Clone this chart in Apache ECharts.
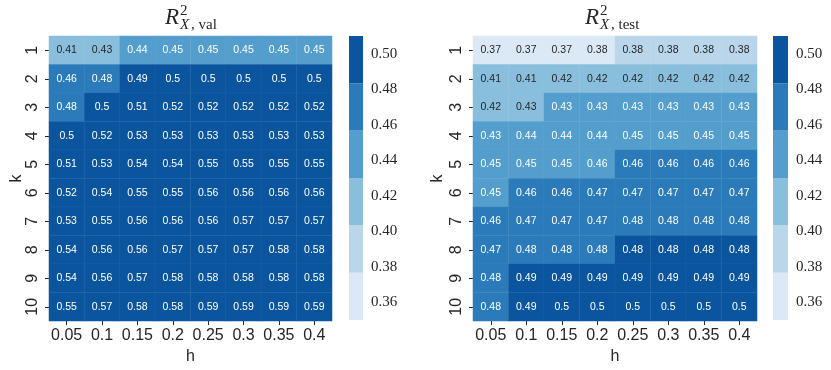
<!DOCTYPE html>
<html>
<head>
<meta charset="utf-8">
<script src="https://cdn.jsdelivr.net/npm/echarts@6/dist/echarts.min.js"></script>
<style>
  html, body { margin: 0; padding: 0; background: #fff; }
  #chart { width: 831px; height: 370px; }
</style>
</head>
<body>
<div id="chart"></div>
<script>
  var hVals = ['0.05', '0.1', '0.15', '0.2', '0.25', '0.3', '0.35', '0.4']
  var kVals = ['1', '2', '3', '4', '5', '6', '7', '8', '9', '10']

  // rows = k, cols = h
  var valScores = [
    [0.41, 0.429, 0.44, 0.45, 0.45, 0.45, 0.45, 0.45],
    [0.46, 0.48, 0.49, 0.50, 0.50, 0.50, 0.50, 0.50],
    [0.48, 0.50, 0.51, 0.52, 0.52, 0.52, 0.52, 0.52],
    [0.50, 0.52, 0.53, 0.53, 0.53, 0.53, 0.53, 0.53],
    [0.51, 0.53, 0.54, 0.54, 0.55, 0.55, 0.55, 0.55],
    [0.52, 0.54, 0.55, 0.55, 0.56, 0.56, 0.56, 0.56],
    [0.53, 0.55, 0.56, 0.56, 0.56, 0.57, 0.57, 0.57],
    [0.54, 0.56, 0.56, 0.57, 0.57, 0.57, 0.58, 0.58],
    [0.54, 0.56, 0.57, 0.58, 0.58, 0.58, 0.58, 0.58],
    [0.55, 0.57, 0.58, 0.58, 0.59, 0.59, 0.59, 0.59]
  ]
  var testScores = [
    [0.37, 0.37, 0.37, 0.376, 0.38, 0.38, 0.38, 0.38],
    [0.41, 0.41, 0.42, 0.42, 0.42, 0.42, 0.42, 0.42],
    [0.42, 0.429, 0.431, 0.431, 0.431, 0.431, 0.431, 0.431],
    [0.432, 0.44, 0.44, 0.44, 0.45, 0.45, 0.45, 0.45],
    [0.45, 0.45, 0.45, 0.456, 0.46, 0.46, 0.46, 0.46],
    [0.45, 0.46, 0.46, 0.47, 0.47, 0.47, 0.47, 0.47],
    [0.46, 0.47, 0.47, 0.47, 0.48, 0.48, 0.48, 0.48],
    [0.47, 0.48, 0.48, 0.48, 0.484, 0.484, 0.484, 0.484],
    [0.48, 0.49, 0.49, 0.49, 0.49, 0.49, 0.49, 0.49],
    [0.48, 0.49, 0.50, 0.50, 0.50, 0.50, 0.50, 0.50]
  ]
  var cbarTicks = [0.36, 0.38, 0.40, 0.42, 0.44, 0.46, 0.48, 0.50]
  var blues = ['#dbe9f6', '#bad6eb', '#89bedc', '#539ecd', '#2b7bba', '#0b559f']
  var vmin = 0.35, vmax = 0.51

  var sans = 'Liberation Sans, Arial, sans-serif'
  var serif = 'Liberation Serif, Times New Roman, serif'
  var dark = '#262626'

  // colour bin edges (6 equal bins)
  var edges = []
  for (var i = 0; i <= blues.length; i++) edges.push(vmin + i * (vmax - vmin) / blues.length)

  function cells(m) {
    var out = []
    for (var r = 0; r < m.length; r++) {
      for (var c = 0; c < m[r].length; c++) out.push([c, r, m[r][c]])
    }
    return out
  }
  var bins = []
  for (var b = 0; b < blues.length; b++) bins.push([edges[b], edges[b + 1], b])

  var pieces = blues.map(function (col, i) {
    var p = { color: col }
    if (i > 0) p.gte = edges[i]
    if (i < blues.length - 1) p.lt = edges[i + 1]
    return p
  })

  var grids = [
    { left: 49, top: 36, width: 283, height: 285 },
    { left: 349, top: 36, width: 14, height: 284 },
    { left: 473, top: 36, width: 284, height: 285 },
    { left: 773, top: 36, width: 15, height: 284 }
  ]

  function heatX(gi) {
    return {
      type: 'category', gridIndex: gi, data: hVals,
      name: 'h', nameLocation: 'middle', nameGap: 26,
      nameTextStyle: { color: dark, fontSize: 16, fontFamily: sans },
      axisLine: { show: false },
      axisTick: { show: true, alignWithLabel: true, length: 4, interval: 0, lineStyle: { color: dark } },
      axisLabel: { color: dark, fontSize: 16, fontFamily: sans, margin: 7, interval: 0 },
      splitLine: { show: false }
    }
  }
  function heatY(gi, gap) {
    return {
      type: 'category', gridIndex: gi, data: kVals, inverse: true,
      name: 'k', nameLocation: 'middle', nameGap: gap,
      nameTextStyle: { color: dark, fontSize: 16, fontFamily: sans },
      axisLine: { show: false },
      axisTick: { show: true, alignWithLabel: true, length: 4, interval: 0, lineStyle: { color: dark } },
      axisLabel: { color: dark, fontSize: 16, fontFamily: sans, rotate: 90, margin: 8, interval: 0 },
      splitLine: { show: false }
    }
  }
  function cbarX(gi) {
    return { type: 'value', gridIndex: gi, min: 0, max: 1, show: false }
  }
  function cbarY(gi) {
    return {
      type: 'value', gridIndex: gi, min: vmin, max: vmax, position: 'right',
      axisLine: { show: false },
      splitLine: { show: false },
      axisTick: { show: true, length: 4, customValues: cbarTicks, lineStyle: { color: dark } },
      axisLabel: {
        color: dark, fontSize: 15, fontFamily: serif, margin: 8,
        customValues: cbarTicks,
        formatter: function (v) { return v.toFixed(2) }
      }
    }
  }

  function cellLabel(p) {
    var v = p.value[2]
    var s = String(parseFloat(v.toFixed(2)))
    return v >= edges[3] ? '{w|' + s + '}' : '{d|' + s + '}'
  }
  function heatSeries(gi, m) {
    return {
      type: 'heatmap', xAxisIndex: gi, yAxisIndex: gi, data: cells(m),
      itemStyle: { borderColor: 'rgba(255,255,255,0.08)', borderWidth: 0.5 },
      label: {
        show: true, formatter: cellLabel,
        rich: {
          w: { color: '#ffffff', fontSize: 10.5, fontFamily: sans },
          d: { color: dark, fontSize: 10.5, fontFamily: sans }
        }
      },
      emphasis: { disabled: true }
    }
  }
  function cbarSeries(gi) {
    return {
      type: 'custom', xAxisIndex: gi, yAxisIndex: gi, data: bins, silent: true,
      renderItem: function (params, api) {
        var p1 = api.coord([0, api.value(1)])
        var p2 = api.coord([1, api.value(0)])
        return {
          type: 'rect',
          shape: { x: p1[0], y: p1[1], width: p2[0] - p1[0], height: p2[1] - p1[1] },
          style: { fill: blues[api.value(2)] }
        }
      }
    }
  }

  function titleText(x, sub) {
    return {
      type: 'group',
      children: [
        { type: 'text', x: x, y: 18, style: { text: 'R', font: 'italic 23px ' + serif, fill: dark, verticalAlign: 'middle' } },
        { type: 'text', x: x + 15, y: 11.5, style: { text: '2', font: '15px ' + serif, fill: dark, verticalAlign: 'middle' } },
        { type: 'text', x: x + 15, y: 25, style: { text: 'X', font: 'italic 15px ' + serif, fill: dark, verticalAlign: 'middle' } },
        { type: 'text', x: x + 26, y: 25, style: { text: sub, font: '15px ' + serif, fill: dark, verticalAlign: 'middle' } }
      ]
    }
  }

  var myChart = echarts.init(document.getElementById('chart'))
  var option = {
    animation: false,
    backgroundColor: '#ffffff',
    grid: grids,
    xAxis: [heatX(0), cbarX(1), heatX(2), cbarX(3)],
    yAxis: [heatY(0, 24), cbarY(1), heatY(2, 27), cbarY(3)],
    visualMap: {
      type: 'piecewise', show: false, seriesIndex: [0, 2], dimension: 2,
      pieces: pieces
    },
    graphic: [titleText(165, ', val'), titleText(585, ', test')],
    series: [heatSeries(0, valScores), cbarSeries(1), heatSeries(2, testScores), cbarSeries(3)]
  }
  option && myChart.setOption(option)
  window.addEventListener('resize', myChart.resize)
</script>
</body>
</html>
